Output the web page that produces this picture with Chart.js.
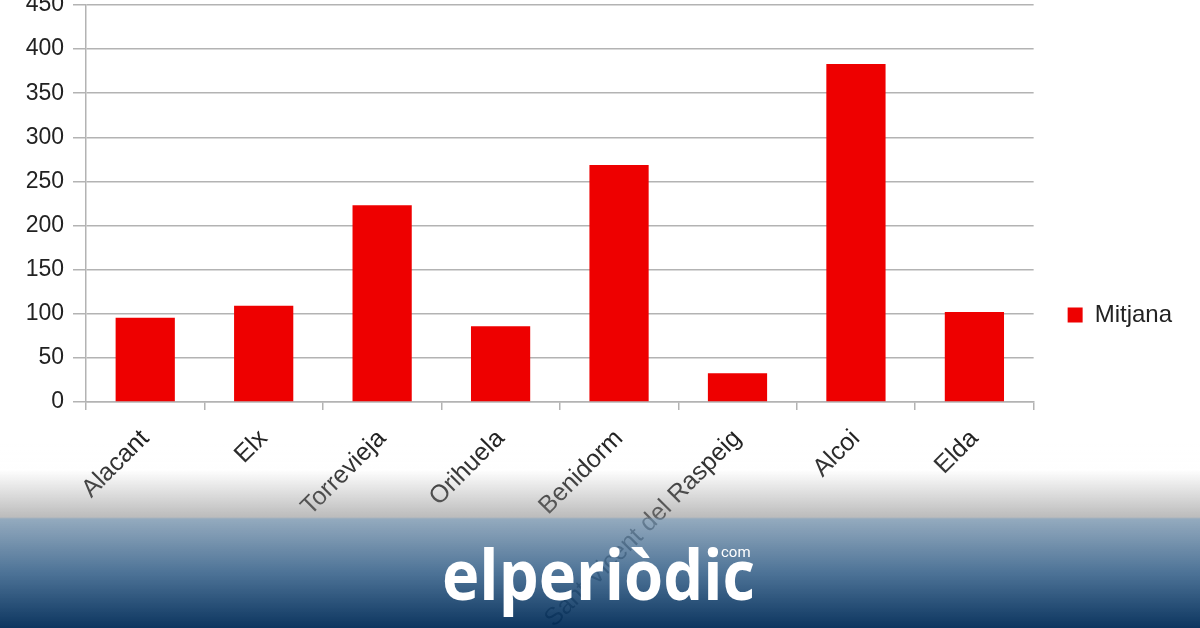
<!DOCTYPE html>
<html><head><meta charset="utf-8">
<script src="https://cdn.jsdelivr.net/npm/chart.js@4"></script>
<style>
html,body{margin:0;padding:0;width:1200px;height:628px;overflow:hidden;background:#fff;}
#wrap{position:absolute;left:0;top:-20px;width:1200px;height:648px;}
#overlay{position:absolute;left:0;top:440px;width:1200px;height:188px;
background:linear-gradient(to bottom,
 rgba(255,255,255,0) 0%,
 rgba(250,250,250,0.1) 16%,
 rgba(143,143,143,0.6) 41%,
 rgba(121,149,174,0.8) 42%,
 rgba(57,99,139,0.9) 71%,
 rgba(0,43,87,0.95) 100%);}
#logo{position:absolute;left:0;top:0;width:1200px;height:628px;}
</style></head>
<body>
<div id="wrap"><canvas id="c" width="1200" height="648"></canvas></div>
<div id="overlay"></div>
<svg id="logo" width="1200" height="628" xmlns="http://www.w3.org/2000/svg">
  <text x="442" y="600" fill="#fff" font-family="Open Sans" font-weight="700" font-size="70" textLength="313" lengthAdjust="spacingAndGlyphs">elperiòdic</text>
  <text x="721" y="557" fill="#fff" font-family="Roboto" font-weight="400" font-size="15">com</text>
</svg>
<script>
const categories = ['Alacant','Elx','Torrevieja','Orihuela','Benidorm','Sant Vicent del Raspeig','Alcoi','Elda'];
const mitjana = [95.5, 109, 223, 86, 268.5, 32.5, 383, 102];
const seriesName = 'Mitjana';
const yTicks = [0,50,100,150,200,250,300,350,400,450];

const FONT = 'Liberation Sans, Arial, sans-serif';
const GRID = '#b3b3b3';

const legendShift = {
  id:'legendShift',
  afterLayout(chart){
    const l = chart.legend; if(!l) return;
    const h = l.bottom - l.top;
    l.top = 289; l.bottom = 289 + h;
  }
};

new Chart(document.getElementById('c'), {
  type:'bar',
  data:{ labels:categories, datasets:[{label:seriesName, data:mitjana, backgroundColor:'#ee0000', borderWidth:0, barPercentage:0.5, categoryPercentage:1.0}]},
  options:{
    responsive:false, maintainAspectRatio:false, animation:false,
    layout:{padding:{top:25,left:0,right:18,bottom:0}},
    plugins:{
      legend:{position:'right', align:'start',
        labels:{boxWidth:15, boxHeight:15, padding:34, color:'#222', font:{family:FONT, size:24}}},
      tooltip:{enabled:false}
    },
    scales:{
      x:{
        ticks:{minRotation:45,maxRotation:45,autoSkip:false,color:'#222',font:{family:FONT,size:25},padding:14},
        grid:{offset:true,drawOnChartArea:false,tickLength:8,color:GRID,lineWidth:1.5},
        border:{color:GRID,width:1.5},
        afterFit(s){ s.height = 226; }
      },
      y:{
        min:0,max:450,
        afterBuildTicks(s){ s.ticks = yTicks.map(v=>({value:v})); },
        ticks:{color:'#222',font:{family:FONT,size:23},padding:9},
        grid:{color:GRID,lineWidth:1.5,tickLength:13},
        border:{color:GRID,width:1.5},
        afterFit(s){ s.width = 86; }
      }
    }
  },
  plugins:[legendShift]
});
</script>
</body></html>
